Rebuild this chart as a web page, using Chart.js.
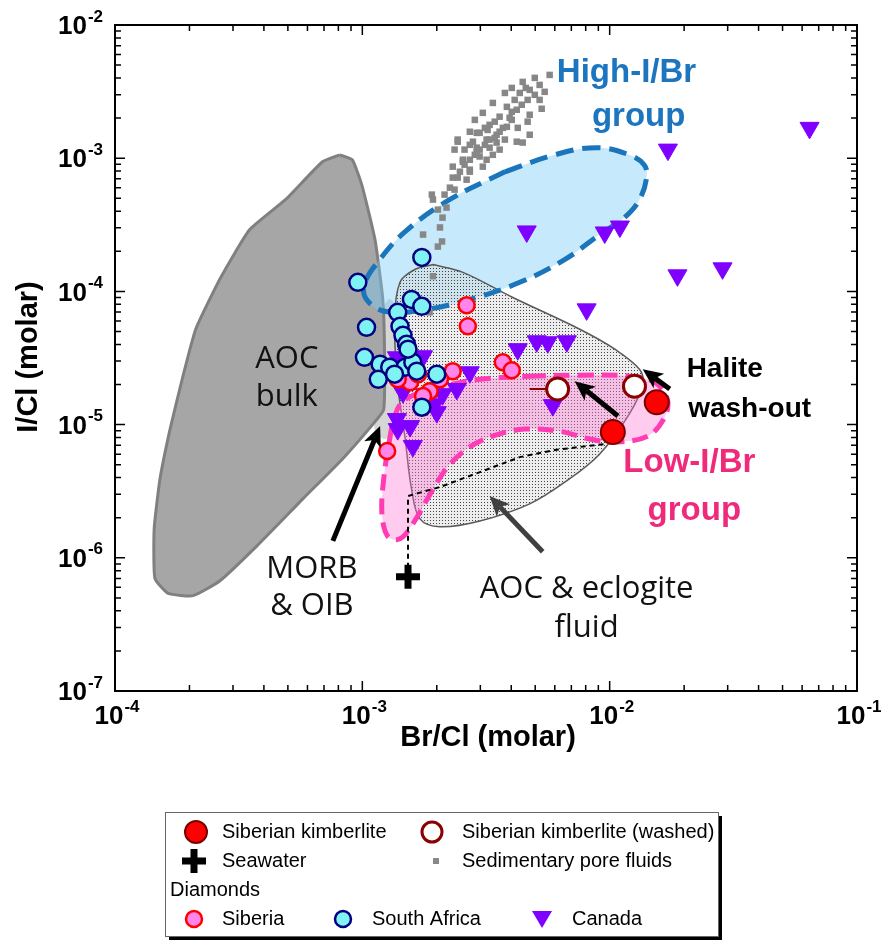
<!DOCTYPE html>
<html>
<head>
<meta charset="utf-8">
<script src="https://cdn.jsdelivr.net/npm/chart.js@4.4.0/dist/chart.umd.min.js"></script>
<style>
  html, body { margin: 0; padding: 0; background: #fff; }
  #wrap { position: relative; width: 883px; height: 945px; }
</style>
</head>
<body>
<div id="wrap"><canvas id="chart" width="883" height="945"></canvas></div>
<script>
// axis ticks
const xMajorTicks = [1e-4, 1e-3, 1e-2, 1e-1];
const xTickExps = ['-4', '-3', '-2', '-1'];
const yMajorTicks = [1e-7, 1e-6, 1e-5, 1e-4, 1e-3, 1e-2];
const yTickExps = ['-7', '-6', '-5', '-4', '-3', '-2'];
const minorSteps = [2, 3, 4, 5, 6, 7, 8, 9];

// point data: [Br/Cl, I/Cl]
const siberianKimberlite = [[1.03e-2, 8.8e-6], [1.55e-2, 1.47e-5]];
const siberianKimberliteWashed = [[6.16e-3, 1.85e-5], [1.26e-2, 1.94e-5]];
const washedErrorBar = [[4.75e-3, 1.85e-5], [6.16e-3, 1.85e-5]];
const seawater = [[1.53e-3, 7.2e-7]];
const poreFluids = [
  [5.72e-3, 4.22e-3], [5.21e-3, 3.55e-3], [4.45e-3, 3.74e-3], [3.77e-3, 3.09e-3], [4.33e-3, 3.09e-3],
  [4.66e-3, 2.74e-3], [5.21e-3, 2.74e-3], [5.31e-3, 2.35e-3], [3.37e-3, 2.60e-3], [3.84e-3, 2.43e-3],
  [4.21e-3, 2.31e-3], [3.07e-3, 2.19e-3], [3.59e-3, 2.05e-3], [2.85e-3, 1.94e-3], [3.27e-3, 1.78e-3],
  [3.84e-3, 1.72e-3], [4.25e-3, 1.69e-3], [2.72e-3, 1.58e-3], [2.98e-3, 1.55e-3], [3.49e-3, 1.50e-3],
  [4.75e-3, 1.50e-3], [2.43e-3, 1.38e-3], [2.80e-3, 1.33e-3], [3.18e-3, 1.38e-3], [4.21e-3, 1.33e-3],
  [4.45e-3, 1.31e-3], [2.36e-3, 1.16e-3], [2.90e-3, 1.20e-3], [3.27e-3, 1.20e-3], [3.59e-3, 1.16e-3],
  [2.98e-3, 1.03e-3], [3.37e-3, 1.06e-3], [2.55e-3, 9.74e-4], [2.32e-3, 8.64e-4], [2.48e-3, 7.92e-4],
  [2.72e-3, 8.20e-4], [3.07e-3, 8.64e-4], [2.90e-3, 1.55e-3], [3.49e-3, 1.31e-3], [2.90e-3, 1.10e-3],
  [3.18e-3, 9.74e-4], [2.43e-3, 1.33e-3], [2.55e-3, 9.41e-4], [2.72e-3, 7.92e-4], [2.32e-3, 7.15e-4],
  [2.64e-3, 6.90e-4], [2.26e-3, 6.01e-4], [2.36e-3, 5.81e-4], [1.91e-3, 5.33e-4], [1.93e-3, 4.89e-4],
  [2.19e-3, 4.26e-4], [2.11e-3, 3.58e-4], [2.06e-3, 3.02e-4], [1.76e-3, 2.67e-4], [2.10e-3, 2.37e-4],
  [2.02e-3, 2.17e-4], [1.93e-3, 1.30e-4], [1.87e-3, 6.96e-5], [4.98e-3, 4.01e-3], [4.02e-3, 3.37e-3],
  [4.75e-3, 2.12e-3], [4.02e-3, 1.94e-3], [2.59e-3, 1.16e-3], [3.13e-3, 1.69e-3], [4.58e-3, 3.37e-3],
  [2.59e-3, 8.94e-4], [2.85e-3, 1.06e-3], [3.13e-3, 1.26e-3], [3.43e-3, 1.42e-3], [3.70e-3, 1.69e-3],
  [3.94e-3, 2.01e-3], [4.13e-3, 2.74e-3], [4.75e-3, 3.26e-3], [5.46e-3, 3.15e-3], [2.72e-3, 9.74e-4],
  [3.27e-3, 1.38e-3], [3.59e-3, 1.58e-3], [4.02e-3, 2.23e-3], [4.41e-3, 2.52e-3], [4.98e-3, 2.99e-3],
  [2.98e-3, 1.16e-3], [2.43e-3, 7.15e-4], [2.15e-3, 5.33e-4], [2.02e-3, 4.11e-4], [4.66e-3, 1.88e-3],
  [3.43e-3, 1.88e-3], [3.21e-3, 1.63e-3], [3.77e-3, 1.38e-3], [2.72e-3, 1.26e-3]
];
const diamondsSiberia = [
  [2.64e-3, 7.86e-5], [2.67e-3, 5.47e-5], [3.70e-3, 2.94e-5], [4.02e-3, 2.56e-5], [2.32e-3, 2.52e-5],
  [1.87e-3, 1.78e-5], [1.76e-3, 1.64e-5], [1.56e-3, 2.08e-5], [1.39e-3, 2.19e-5], [1.26e-3, 6.33e-6],
  [1.68e-3, 2.39e-5], [2.06e-3, 2.19e-5]
];
const diamondsSouthAfrica = [
  [9.59e-4, 1.17e-4], [1.74e-3, 1.80e-4], [1.58e-3, 8.7e-5], [1.74e-3, 7.72e-5], [1.39e-3, 6.96e-5],
  [1.42e-3, 5.47e-5], [1.46e-3, 4.68e-5], [1.51e-3, 4.01e-5], [1.04e-3, 5.37e-5], [1.02e-3, 3.20e-5],
  [1.18e-3, 2.84e-5], [1.29e-3, 2.70e-5], [1.16e-3, 2.19e-5], [1.49e-3, 2.70e-5], [1.60e-3, 2.94e-5],
  [1.66e-3, 2.52e-5], [2.00e-3, 2.39e-5], [1.74e-3, 1.35e-5], [1.53e-3, 3.68e-5], [1.35e-3, 2.39e-5]
];
const diamondsCanada = [
  [6.43e-2, 1.69e-3], [1.72e-2, 1.16e-3], [4.62e-3, 2.82e-4], [9.55e-3, 2.77e-4], [1.10e-2, 3.07e-4],
  [1.88e-2, 1.32e-4], [2.86e-2, 1.49e-4], [8.07e-3, 7.33e-5], [4.25e-3, 3.68e-5], [5.07e-3, 4.22e-5],
  [5.62e-3, 4.15e-5], [6.71e-3, 4.22e-5], [5.89e-3, 1.40e-5], [2.72e-3, 2.47e-5], [2.41e-3, 1.85e-5],
  [2.11e-3, 1.69e-5], [1.96e-3, 1.42e-5], [1.38e-3, 3.20e-5], [1.76e-3, 3.26e-5], [1.46e-3, 1.75e-5],
  [1.38e-3, 1.10e-5], [1.56e-3, 9.74e-6], [2.00e-3, 1.24e-5], [1.60e-3, 6.90e-6], [1.39e-3, 9.25e-6],
  [1.79e-3, 1.69e-5]
];

// fields (outlines)
const aocBulk = [
  [8.1e-4, 1.06e-3], [9.1e-4, 9.75e-4], [9.95e-4, 6.3e-4], [1.125e-3, 2.45e-4], [1.21e-3, 8.7e-5],
  [1.23e-3, 3.1e-5], [1.22e-3, 1.3e-5], [1.10e-3, 1.0e-5], [8.3e-4, 5.5e-6], [5.75e-4, 2.77e-6],
  [3.75e-4, 1.23e-6], [2.65e-4, 6.7e-7], [2.07e-4, 5.2e-7], [1.64e-4, 5.4e-7], [1.45e-4, 7.0e-7],
  [1.44e-4, 1.65e-6], [1.52e-4, 3.9e-6], [1.67e-4, 9.25e-6], [1.87e-4, 2.2e-5], [2.12e-4, 5.2e-5],
  [2.65e-4, 1.23e-4], [3.5e-4, 2.9e-4], [4.9e-4, 4.9e-4], [6.9e-4, 9.4e-4], [8.1e-4, 1.06e-3]
];
const morbOib = [
  [1.09e-3, 4.37e-5], [1.27e-3, 8.7e-5], [1.39e-3, 7.33e-5], [1.42e-3, 2.19e-5], [1.37e-3, 9.25e-6],
  [1.23e-3, 7.79e-6], [1.12e-3, 9.25e-6], [1.09e-3, 4.37e-5]
];
const highIBrField = [
  [3.77e-3, 7.9e-4], [6.0e-3, 1.06e-3], [8.85e-3, 1.2e-3], [1.2e-2, 1.06e-3], [1.38e-2, 8.9e-4],
  [1.41e-2, 7.15e-4], [1.32e-2, 4.9e-4], [1.15e-2, 3.6e-4], [9.1e-3, 2.67e-4], [6.6e-3, 1.74e-4],
  [4.33e-3, 1.17e-4], [2.72e-3, 8.7e-5], [1.71e-3, 7.2e-5], [1.23e-3, 7.1e-5], [1.04e-3, 8.7e-5],
  [1.02e-3, 1.13e-4], [1.16e-3, 1.68e-4], [1.49e-3, 2.81e-4], [2.26e-3, 4.9e-4], [3.77e-3, 7.9e-4]
];
const aocFluidField = [
  [1.93e-3, 1.59e-4], [2.55e-3, 1.39e-4], [4.06e-3, 9.0e-5], [7.57e-3, 5.2e-5], [1.05e-2, 3.68e-5],
  [1.32e-2, 2.6e-5], [1.36e-2, 2.0e-5], [1.2e-2, 1.2e-5], [9.1e-3, 6.0e-6], [6.7e-3, 3.78e-6],
  [4.75e-3, 2.54e-6], [2.99e-3, 1.89e-6], [2.06e-3, 1.71e-6], [1.71e-3, 1.96e-6], [1.58e-3, 3.3e-6],
  [1.49e-3, 7.8e-6], [1.39e-3, 2.0e-5], [1.35e-3, 6.2e-5], [1.42e-3, 1.17e-4], [1.63e-3, 1.46e-4],
  [1.93e-3, 1.59e-4]
];
const lowIBrField = [
  [4.75e-3, 2.31e-5], [7.57e-3, 2.35e-5], [1.2e-2, 2.31e-5], [1.52e-2, 2.08e-5], [1.71e-2, 1.55e-5],
  [1.67e-2, 1.14e-5], [1.43e-2, 8.2e-6], [1.05e-2, 7.4e-6], [8.3e-3, 7.8e-6], [6.28e-3, 8.9e-6],
  [4.54e-3, 9.25e-6], [3.43e-3, 8.3e-6], [2.72e-3, 6.8e-6], [2.21e-3, 4.8e-6], [1.88e-3, 3.0e-6],
  [1.6e-3, 1.8e-6], [1.42e-3, 1.39e-6], [1.27e-3, 1.44e-6], [1.2e-3, 2.14e-6], [1.22e-3, 3.9e-6],
  [1.29e-3, 7.8e-6], [1.36e-3, 1.2e-5], [1.49e-3, 1.55e-5], [2.06e-3, 1.91e-5], [2.99e-3, 2.19e-5],
  [4.75e-3, 2.31e-5]
];
const mixingLine = [
  [1.53e-3, 7.2e-7], [1.53e-3, 2.91e-6], [2.06e-3, 3.4e-6], [2.99e-3, 4.4e-6], [4.33e-3, 5.7e-6],
  [6.0e-3, 6.45e-6], [9.55e-3, 7.15e-6]
];

// annotations
const arrows = [
  { from: [1.08e-2, 1.16e-5], to: [7.22e-3, 2.12e-5], color: '#000' },
  { from: [1.75e-2, 1.85e-5], to: [1.36e-2, 2.6e-5], color: '#000' },
  { from: [7.6e-4, 1.34e-6], to: [1.18e-3, 9.74e-6], color: '#000' },
  { from: [5.36e-3, 1.11e-6], to: [3.27e-3, 2.91e-6], color: '#404040' }
];
const BOLD = '"Liberation Sans", Arial, sans-serif';
const PLAIN = '"Open Sans", "Noto Sans", sans-serif';
const notes = [
  { text: 'High-I/Br', x: 1.17e-2, y: 4.37e-3, font: 'bold 33px ' + BOLD, color: '#1b75bf' },
  { text: 'group', x: 1.31e-2, y: 2.05e-3, font: 'bold 33px ' + BOLD, color: '#1b75bf' },
  { text: 'Low-I/Br', x: 2.1e-2, y: 5.15e-6, font: 'bold 33px ' + BOLD, color: '#ef2a7b' },
  { text: 'group', x: 2.2e-2, y: 2.25e-6, font: 'bold 33px ' + BOLD, color: '#ef2a7b' },
  { text: 'Halite', x: 2.92e-2, y: 2.6e-5, font: 'bold 28px ' + BOLD, color: '#000' },
  { text: 'wash-out', x: 3.68e-2, y: 1.31e-5, font: 'bold 28px ' + BOLD, color: '#000' },
  { text: 'AOC', x: 4.95e-4, y: 3.1e-5, font: '31px ' + PLAIN, color: '#111' },
  { text: 'bulk', x: 4.95e-4, y: 1.61e-5, font: '31px ' + PLAIN, color: '#111' },
  { text: 'MORB', x: 6.25e-4, y: 8.28e-7, font: '31px ' + PLAIN, color: '#111' },
  { text: '& OIB', x: 6.25e-4, y: 4.30e-7, font: '31px ' + PLAIN, color: '#111' },
  { text: 'AOC & eclogite', x: 8.07e-3, y: 5.77e-7, font: '31px ' + PLAIN, color: '#111' },
  { text: 'fluid', x: 8.07e-3, y: 2.94e-7, font: '31px ' + PLAIN, color: '#111' }
];

const pts = arr => arr.map(p => ({ x: p[0], y: p[1] }));

function stipple() {
  const c = document.createElement('canvas');
  c.width = 3; c.height = 3;
  const g = c.getContext('2d');
  g.fillStyle = 'rgba(215,215,215,0.45)';
  g.fillRect(0, 0, 3, 3);
  g.fillStyle = 'rgba(30,30,30,0.8)';
  g.fillRect(1, 1, 1, 1);
  return g.createPattern(c, 'repeat');
}

function field(data, bg, border, width, dash, tension, order, fill) {
  return {
    type: 'line', data: pts(data), backgroundColor: bg, borderColor: border,
    borderWidth: width, borderDash: dash, tension: tension, pointRadius: 0,
    fill: fill === false ? false : 'shape', order: order
  };
}

function drawArrow(ctx, x1, y1, x2, y2, color) {
  const ang = Math.atan2(y2 - y1, x2 - x1), hl = 20, hw = 9;
  const bx = x2 - Math.cos(ang) * hl * 0.75, by = y2 - Math.sin(ang) * hl * 0.75;
  ctx.strokeStyle = color; ctx.fillStyle = color; ctx.lineWidth = 5;
  ctx.beginPath(); ctx.moveTo(x1, y1); ctx.lineTo(bx, by); ctx.stroke();
  ctx.beginPath();
  ctx.moveTo(x2, y2);
  ctx.lineTo(x2 - Math.cos(ang) * hl + Math.sin(ang) * hw, y2 - Math.sin(ang) * hl - Math.cos(ang) * hw);
  ctx.lineTo(bx, by);
  ctx.lineTo(x2 - Math.cos(ang) * hl - Math.sin(ang) * hw, y2 - Math.sin(ang) * hl + Math.cos(ang) * hw);
  ctx.closePath(); ctx.fill();
}

function power(ctx, exp, x, y, align) {
  ctx.textBaseline = 'middle';
  ctx.font = 'bold 26px ' + BOLD;
  const w10 = ctx.measureText('10').width;
  ctx.font = 'bold 17px ' + BOLD;
  const we = ctx.measureText(exp).width;
  let left = align === 'right' ? x - w10 - we : x - w10 / 2;
  ctx.textAlign = 'left';
  ctx.font = 'bold 26px ' + BOLD;
  ctx.fillText('10', left, y);
  ctx.font = 'bold 17px ' + BOLD;
  ctx.fillText(exp, left + w10 + 1, y - 10);
}

function circle(ctx, x, y, r, fill, stroke, lw) {
  ctx.beginPath(); ctx.arc(x, y, r, 0, Math.PI * 2);
  ctx.fillStyle = fill; ctx.fill();
  ctx.lineWidth = lw; ctx.strokeStyle = stroke; ctx.stroke();
}

function drawLegend(ctx) {
  const L = 165, T = 812, W = 553, H = 124;
  ctx.fillStyle = '#000'; ctx.fillRect(L + 4, T + 4, W, H);
  ctx.fillStyle = '#fff'; ctx.fillRect(L, T, W, H);
  ctx.strokeStyle = '#666'; ctx.lineWidth = 1; ctx.strokeRect(L + 0.5, T + 0.5, W, H);
  const r1 = 832, r2 = 861, r3 = 890, r4 = 919;
  circle(ctx, 196, r1, 11, '#ff0000', '#7a0000', 2);
  circle(ctx, 432, r1, 10, '#fff', '#8b0000', 3);
  ctx.fillStyle = '#000'; ctx.fillRect(182, r2 - 3.5, 24, 7); ctx.fillRect(190.5, r2 - 12, 7, 24);
  ctx.fillStyle = '#888'; ctx.fillRect(433, r2 - 3, 6, 6);
  circle(ctx, 194, r4, 8, '#ff85ea', '#ff0000', 2.5);
  circle(ctx, 343, r4, 8, '#7ff3f3', '#000080', 2.5);
  ctx.fillStyle = '#7f00ff';
  ctx.beginPath(); ctx.moveTo(532, r4 - 8); ctx.lineTo(552, r4 - 8); ctx.lineTo(542, r4 + 9); ctx.closePath(); ctx.fill();
  ctx.fillStyle = '#000';
  ctx.textAlign = 'left'; ctx.textBaseline = 'middle';
  ctx.font = '20px "Liberation Sans", Arial, sans-serif';
  ctx.fillText('Siberian kimberlite', 222, r1);
  ctx.fillText('Siberian kimberlite (washed)', 462, r1);
  ctx.fillText('Seawater', 222, r2);
  ctx.fillText('Sedimentary pore fluids', 462, r2);
  ctx.fillText('Diamonds', 170, r3);
  ctx.fillText('Siberia', 222, r4);
  ctx.fillText('South Africa', 372, r4);
  ctx.fillText('Canada', 572, r4);
}

const decor = {
  id: 'decor',
  afterDraw(chart) {
    const ctx = chart.ctx, xs = chart.scales.x, ys = chart.scales.y, a = chart.chartArea;
    ctx.save();
    arrows.forEach(ar => drawArrow(ctx,
      xs.getPixelForValue(ar.from[0]), ys.getPixelForValue(ar.from[1]),
      xs.getPixelForValue(ar.to[0]), ys.getPixelForValue(ar.to[1]), ar.color));
    ctx.textAlign = 'center'; ctx.textBaseline = 'middle';
    notes.forEach(n => {
      ctx.font = n.font; ctx.fillStyle = n.color;
      ctx.fillText(n.text, xs.getPixelForValue(n.x), ys.getPixelForValue(n.y));
    });
    // frame + inward ticks
    ctx.strokeStyle = '#000'; ctx.lineWidth = 2;
    ctx.strokeRect(a.left, a.top, a.right - a.left, a.bottom - a.top);
    ctx.lineWidth = 1.5;
    ctx.beginPath();
    xMajorTicks.forEach(v => {
      [1].concat(minorSteps).forEach(m => {
        const t = v * m;
        if (t > xs.max * 1.0001) return;
        const px = xs.getPixelForValue(t), len = m === 1 ? 10 : 6;
        ctx.moveTo(px, a.bottom); ctx.lineTo(px, a.bottom - len);
        ctx.moveTo(px, a.top); ctx.lineTo(px, a.top + len);
      });
    });
    yMajorTicks.forEach(v => {
      [1].concat(minorSteps).forEach(m => {
        const t = v * m;
        if (t > ys.max * 1.0001) return;
        const py = ys.getPixelForValue(t), len = m === 1 ? 10 : 6;
        ctx.moveTo(a.left, py); ctx.lineTo(a.left + len, py);
        ctx.moveTo(a.right, py); ctx.lineTo(a.right - len, py);
      });
    });
    ctx.stroke();
    ctx.fillStyle = '#000';
    xMajorTicks.forEach((v, i) => power(ctx, xTickExps[i], xs.getPixelForValue(v) - 6, a.bottom + 26));
    yMajorTicks.forEach((v, i) => power(ctx, yTickExps[i], a.left - 13, ys.getPixelForValue(v) + 2, 'right'));
    ctx.font = 'bold 29px ' + BOLD; ctx.textAlign = 'center'; ctx.textBaseline = 'middle';
    ctx.fillText('Br/Cl (molar)', 488, 738);
    ctx.save(); ctx.translate(29, 357); ctx.rotate(-Math.PI / 2);
    ctx.fillText('I/Cl (molar)', 0, 0); ctx.restore();
    drawLegend(ctx);
    ctx.restore();
  }
};

new Chart(document.getElementById('chart'), {
  type: 'scatter',
  data: {
    datasets: [
      field(morbOib, '#d6d6d6', '#d6d6d6', 0, [], 0.3, 21),
      field(aocBulk, '#a6a6a6', '#808080', 3, [], 0.15, 20),
      field(highIBrField, 'rgba(120,205,245,0.42)', 'rgba(0,0,0,0)', 0, [], 0.4, 18),
      field(aocFluidField, stipple(), '#5a5a5a', 1.5, [], 0.35, 17),
      field(highIBrField, 'rgba(0,0,0,0)', '#1b75bb', 5, [18, 9], 0.4, 16.5, false),
      field(lowIBrField, 'rgba(255,120,215,0.38)', '#ff3cb4', 5, [16, 8], 0.35, 16),
      field(mixingLine, 'rgba(0,0,0,0)', '#000', 2, [5, 4], 0, 15, false),
      { data: pts(poreFluids), pointStyle: 'rect', pointRadius: 4.6, backgroundColor: '#878787', borderWidth: 0, order: 14 },
      { data: pts(diamondsCanada), pointStyle: 'triangle', rotation: 180, pointRadius: 11, backgroundColor: '#7f00ff', borderColor: '#7f00ff', borderWidth: 1, order: 13 },
      { data: pts(diamondsSiberia), pointRadius: 8, backgroundColor: '#ff85ea', borderColor: '#ff0000', borderWidth: 2.5, order: 12 },
      { data: pts(diamondsSouthAfrica), pointRadius: 8.5, backgroundColor: '#7ff3f3', borderColor: '#000080', borderWidth: 2.5, order: 11 },
      field(washedErrorBar, 'rgba(0,0,0,0)', '#8b0000', 2, [], 0, 10, false),
      { data: pts(siberianKimberlite), pointRadius: 12, backgroundColor: '#ff0000', borderColor: '#7a0000', borderWidth: 2, order: 9 },
      { data: pts(siberianKimberliteWashed), pointRadius: 11, backgroundColor: '#ffffff', borderColor: '#8b0000', borderWidth: 3, order: 8 },
      { data: pts(seawater), pointStyle: 'cross', pointRadius: 12, borderColor: '#000', borderWidth: 7, order: 6 }
    ]
  },
  options: {
    responsive: false,
    animation: false,
    events: [],
    layout: { padding: { left: 115, right: 26, top: 25, bottom: 254 } },
    plugins: { legend: { display: false }, tooltip: { enabled: false } },
    scales: {
      x: { type: 'logarithmic', min: 1e-4, max: 1e-1, display: false },
      y: { type: 'logarithmic', min: 1e-7, max: 1e-2, display: false }
    }
  },
  plugins: [decor]
});
</script>
</body>
</html>
